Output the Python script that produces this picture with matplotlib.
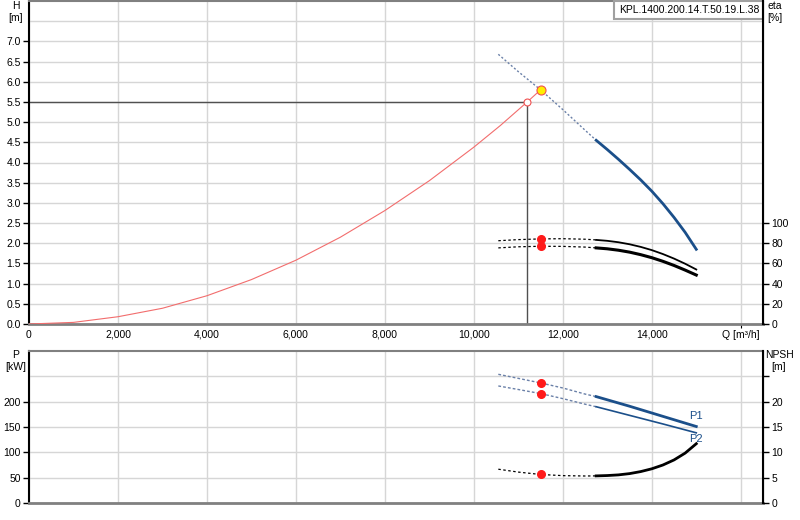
import matplotlib
matplotlib.use("Agg")
import matplotlib.pyplot as plt

plt.rcParams['font.family'] = ['Liberation Sans', 'DejaVu Sans']
plt.rcParams['font.size'] = 7.5

# system curve (red)
sys_q = [0, 1000, 2000, 3000, 4000, 5000, 6000, 7000, 8000, 9000, 10000, 10600, 11200, 11500]
sys_h = [0.0, 0.04, 0.18, 0.39, 0.70, 1.10, 1.58, 2.15, 2.81, 3.55, 4.38, 4.92, 5.50, 5.80]

# pump head curve
h_q_ext = [10550, 11000, 11500, 12000, 12500, 12750]
h_ext = [6.68, 6.25, 5.80, 5.31, 4.80, 4.55]
h_q = [12750, 13000, 13250, 13500, 13750, 14000, 14250, 14500, 14750, 15000]
h_val = [4.55, 4.32, 4.08, 3.83, 3.57, 3.29, 2.98, 2.64, 2.27, 1.85]

# efficiencies
eta_q_ext = [10550, 11000, 11500, 12000, 12500, 12750]
eta1_ext = [82.5, 83.6, 84.3, 84.5, 84.0, 83.3]
eta2_ext = [75.4, 76.5, 77.0, 76.9, 76.2, 75.4]
eta_q = [12750, 13000, 13250, 13500, 13750, 14000, 14250, 14500, 14750, 15000]
eta1 = [83.3, 82.4, 81.0, 79.0, 76.4, 73.2, 69.3, 64.8, 59.7, 54.0]
eta2 = [75.4, 74.5, 73.1, 71.2, 68.7, 65.7, 62.1, 58.0, 53.4, 48.5]

# power
p_q_ext = [10550, 11000, 11500, 12000, 12500, 12750]
p1_ext = [254, 246, 237, 227, 215, 210]
p2_ext = [231, 224, 216, 206, 195, 190]
p_q = [12750, 13500, 14250, 15000]
p1 = [210, 191, 171, 151]
p2 = [190, 173, 156, 138.5]

# NPSH
npsh_q_ext = [10550, 11000, 11500, 12000, 12500, 12750]
npsh_ext = [6.67, 6.10, 5.63, 5.40, 5.33, 5.35]
npsh_q = [12750, 13000, 13250, 13500, 13750, 14000, 14250, 14500, 14750, 15000]
npsh = [5.35, 5.42, 5.55, 5.80, 6.20, 6.75, 7.50, 8.50, 9.85, 11.70]

# operating / duty points
op_q, op_h = 11200, 5.5
duty_q, duty_h = 11500, 5.80
duty_eta = [84.3, 77.0]
duty_p = [237, 216]
duty_npsh = 5.63

x_ticks = [0, 2000, 4000, 6000, 8000, 10000, 12000, 14000, 16000]
x_labels = ['0', '2,000', '4,000', '6,000', '8,000', '10,000', '12,000', '14,000', 'Q [m³/h]']
h_ticks = [0.5 * i for i in range(15)]
eta_ticks = [0, 20, 40, 60, 80, 100]
p_ticks = [0, 50, 100, 150, 200]
npsh_ticks = [0, 5, 10, 15, 20, 25]

blue = '#1b4f8a'
dotblue = '#6a80a8'
grid_c = '#d6d6d6'

fig = plt.figure(figsize=(8, 5.2), dpi=100)
ax = fig.add_axes([29/800, 196/520, 734/800, 323/520])
ax2 = ax.twinx()
bx = fig.add_axes([29/800, 17/520, 734/800, 152/520])
bx2 = bx.twinx()


def style(a, r):
    a.set_xlim(0, 16500)
    a.set_facecolor('white')
    a.spines['left'].set_color('black')
    a.spines['left'].set_linewidth(1.5)
    a.spines['top'].set_color('#808080')
    a.spines['top'].set_linewidth(1.5)
    a.spines['bottom'].set_color('#808080')
    a.spines['bottom'].set_linewidth(2)
    r.spines['right'].set_color('black')
    r.spines['right'].set_linewidth(1.5)
    for s in ['left', 'top', 'bottom']:
        r.spines[s].set_visible(False)
    a.set_xticks(x_ticks)
    a.tick_params(axis='x', length=0, pad=4)
    a.tick_params(axis='y', length=4, width=1, pad=2)
    r.tick_params(axis='y', length=4, width=1, pad=2)
    a.grid(True, color=grid_c, lw=1)
    a.set_axisbelow(True)


style(ax, ax2)
ax.set_ylim(0, 8)
ax.set_yticks(h_ticks)
ax.set_yticklabels([f'{v:.1f}' for v in h_ticks])
ax.axhline(7.5, color=grid_c, lw=1, zorder=0)
ax.set_xticklabels(x_labels)
ax.xaxis.get_major_ticks()[-1].tick1line.set_markersize(3)
ax2.set_ylim(0, 320)
ax2.set_yticks(eta_ticks)

style(bx, bx2)
bx.set_ylim(0, 300)
bx.set_yticks(p_ticks)
bx.axhline(250, color=grid_c, lw=1, zorder=0)
bx.set_xticklabels([])
bx2.set_ylim(0, 30)
bx2.set_yticks(npsh_ticks)
bx2.set_yticklabels(['0', '5', '10', '15', '20', ''])

# top panel
ax.plot(sys_q, sys_h, color='#f26d6d', lw=0.8, zorder=3)
ax.plot([0, op_q], [op_h, op_h], color='#505050', lw=1, zorder=2)
ax.plot([op_q, op_q], [0, op_h], color='#505050', lw=1, zorder=2)
ax.plot(h_q_ext, h_ext, color=dotblue, lw=1, ls=(0, (1.5, 1.5)), zorder=3)
ax.plot(h_q, h_val, color=blue, lw=2, zorder=3)
ax.plot(op_q, op_h, 'o', ms=5, mfc='white', mec='#f05050', mew=0.8, zorder=5)
ax.plot(duty_q, duty_h, 'o', ms=6.5, mfc='#ffee00', mec='#f05050', mew=0.8, zorder=5)

ax2.plot(eta_q_ext, eta1_ext, color='black', lw=0.9, ls=(0, (2, 2)), zorder=3)
ax2.plot(eta_q_ext, eta2_ext, color='black', lw=0.9, ls=(0, (2, 2)), zorder=3)
ax2.plot(eta_q, eta1, color='black', lw=1.3, zorder=3)
ax2.plot(eta_q, eta2, color='black', lw=2.2, zorder=3)
ax2.plot([duty_q] * 2, duty_eta, 'o', ms=5.5, color='#ff1a1a', zorder=5)

# bottom panel
bx.plot(p_q_ext, p1_ext, color=dotblue, lw=1, ls=(0, (2, 1.5)), zorder=3)
bx.plot(p_q_ext, p2_ext, color=dotblue, lw=1, ls=(0, (2, 1.5)), zorder=3)
bx.plot(p_q, p1, color=blue, lw=2, zorder=3)
bx.plot(p_q, p2, color=blue, lw=1.2, zorder=3)
bx.plot([duty_q] * 2, duty_p, 'o', ms=5.5, color='#ff1a1a', zorder=5)
bx.text(14850, 171, 'P1', color=blue, fontsize=8, va='center', ha='left')
bx.text(14850, 127, 'P2', color=blue, fontsize=8, va='center', ha='left')

bx2.plot(npsh_q_ext, npsh_ext, color='black', lw=0.9, ls=(0, (2, 2)), zorder=3)
bx2.plot(npsh_q, npsh, color='black', lw=2, zorder=3)
bx2.plot(duty_q, duty_npsh, 'o', ms=5.5, color='#ff1a1a', zorder=5)

# axis captions
fig.text(16/800, 1 - 12/520, 'H\n[m]', ha='center', va='center', linespacing=1.3)
fig.text(767/800, 1 - 12/520, 'eta\n[%]', ha='left', va='center', linespacing=1.3)
fig.text(16/800, 1 - 361/520, 'P\n[kW]', ha='center', va='center', linespacing=1.3)
fig.text(779/800, 1 - 361/520, 'NPSH\n[m]', ha='center', va='center', linespacing=1.3)

ax.text(0.9946, 0.988, 'KPL.1400.200.14.T.50.19.L.38', transform=ax.transAxes,
        ha='right', va='top', fontsize=7.5, zorder=6,
        bbox=dict(boxstyle='square,pad=0.4', fc='white', ec='#a0a0a0', lw=1.5))

fig.savefig('out.png', dpi=100)
